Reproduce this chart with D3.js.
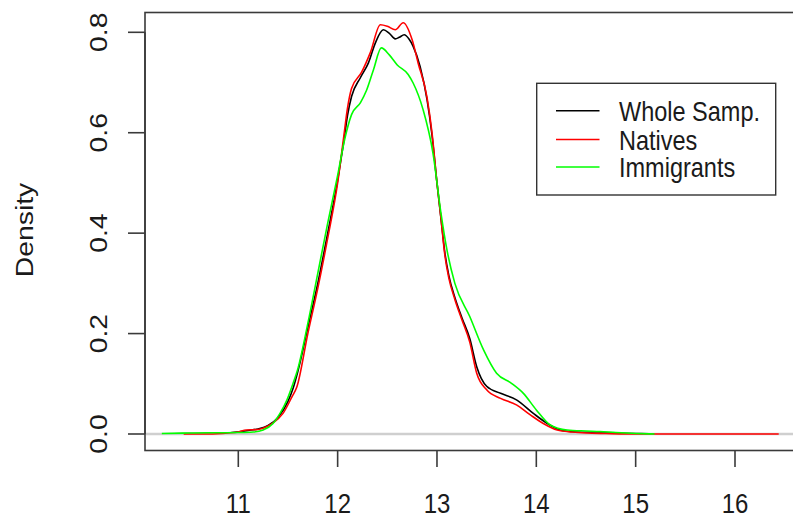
<!DOCTYPE html>
<html>
<head>
<meta charset="utf-8">
<script src="https://cdn.jsdelivr.net/npm/d3@7"></script>
<style>
  html, body { margin: 0; padding: 0; background: #fff; }
  svg { display: block; }
  text { font-family: "Liberation Sans", Arial, sans-serif; fill: #1a1a1a; }
</style>
</head>
<body>
<svg id="chart" width="793" height="519"></svg>
<script>
// density estimates: [log value, density]
var wholeSample = [
  [10.2, 0.0], [10.6, 0.001], [10.9, 0.002], [11.0, 0.004], [11.1, 0.007], [11.2, 0.01],
  [11.3, 0.017], [11.4, 0.033], [11.5, 0.065], [11.55, 0.09], [11.6, 0.125], [11.7, 0.212],
  [11.8, 0.30], [11.9, 0.40], [12.0, 0.505], [12.06, 0.58], [12.1, 0.635], [12.14, 0.672],
  [12.23, 0.71], [12.31, 0.739], [12.38, 0.779], [12.46, 0.805], [12.52, 0.798],
  [12.58, 0.787], [12.62, 0.79], [12.67, 0.795], [12.72, 0.786], [12.76, 0.772],
  [12.83, 0.732], [12.9, 0.666], [12.95, 0.595], [13.0, 0.5], [13.04, 0.43], [13.08, 0.36],
  [13.12, 0.315], [13.18, 0.272], [13.25, 0.232], [13.33, 0.19], [13.4, 0.134], [13.5, 0.095],
  [13.64, 0.081], [13.8, 0.068], [13.97, 0.041], [14.11, 0.021], [14.24, 0.008], [14.4, 0.004],
  [14.6, 0.003], [14.8, 0.002], [15.0, 0.001], [15.3, 0.0], [16.44, 0.0]
];

var natives = [
  [10.45, 0.0], [10.7, 0.0], [10.9, 0.002], [11.0, 0.004], [11.08, 0.008], [11.2, 0.009],
  [11.29, 0.015], [11.35, 0.022], [11.45, 0.041], [11.54, 0.074], [11.59, 0.094], [11.7, 0.2],
  [11.8, 0.29], [11.9, 0.39], [12.0, 0.5], [12.06, 0.59], [12.1, 0.65], [12.14, 0.688],
  [12.24, 0.72], [12.33, 0.76], [12.43, 0.815], [12.5, 0.812], [12.58, 0.805], [12.66, 0.819],
  [12.75, 0.785], [12.81, 0.739], [12.9, 0.67], [12.95, 0.6], [13.0, 0.5], [13.04, 0.43],
  [13.08, 0.355], [13.12, 0.31], [13.18, 0.268], [13.25, 0.228], [13.33, 0.183], [13.4, 0.121],
  [13.5, 0.088], [13.64, 0.071], [13.8, 0.058], [13.94, 0.038], [14.07, 0.021], [14.21, 0.008],
  [14.36, 0.004], [14.5, 0.002], [14.7, 0.001], [15.0, 0.0], [16.44, 0.0]
];

var immigrants = [
  [10.23, 0.001], [10.5, 0.002], [11.0, 0.003], [11.15, 0.004], [11.25, 0.008], [11.35, 0.021],
  [11.42, 0.041], [11.49, 0.068], [11.55, 0.1], [11.6, 0.13], [11.7, 0.22], [11.8, 0.32],
  [11.9, 0.42], [12.0, 0.515], [12.07, 0.586], [12.14, 0.636], [12.23, 0.66], [12.29, 0.684],
  [12.36, 0.725], [12.44, 0.769], [12.52, 0.755], [12.6, 0.735], [12.71, 0.716], [12.76, 0.699],
  [12.86, 0.646], [12.96, 0.559], [13.04, 0.44], [13.1, 0.367], [13.18, 0.3], [13.33, 0.234],
  [13.47, 0.167], [13.6, 0.121], [13.75, 0.101], [13.87, 0.081], [14.0, 0.048], [14.14, 0.018],
  [14.31, 0.008], [14.5, 0.006], [14.64, 0.005], [14.8, 0.003], [15.01, 0.001], [15.19, 0.0]
];

var seriesNames = ['Whole Samp.', 'Natives', 'Immigrants'];
var seriesColors = ['#000000', '#ff0000', '#00ff00'];
var xTicks = [11, 12, 13, 14, 15, 16];
var yTicks = [0, 0.2, 0.4, 0.6, 0.8];
var yTitle = 'Density';


/**
 * Draws the density plot
 */
function drawChart() {
  var svg = d3.select('#chart');
  // the picture was stretched a little in height, text follows that
  var stretch = 'scale(1,1.18)';
  var legendStretch = 'scale(1,1.16)';

  var box = {left: 145, top: 12.5, right: 800, bottom: 450.5};
  var x = d3.scaleLinear().domain([11, 16]).range([238.3, 735]);
  var y = d3.scaleLinear().domain([0, 0.8]).range([434, 32.3]);

  var line = d3.line()
      .x(function(d) { return x(d[0]); })
      .y(function(d) { return y(d[1]); })
      .curve(d3.curveMonotoneX);

  var plot = svg.append('g');

  // whole sample goes first, then the zero line, then the subgroups on top
  plot.append('path').datum(wholeSample).
      attr('d', line).
      attr('fill', 'none').
      attr('stroke', seriesColors[0]).
      attr('stroke-width', 1.6);

  plot.append('line').
      attr('x1', box.left).attr('x2', box.right).
      attr('y1', y(0)).attr('y2', y(0)).
      attr('stroke', '#cfcfcf').
      attr('stroke-width', 2.4);

  [natives, immigrants].forEach(function(series, i) {
    plot.append('path').datum(series).
        attr('d', line).
        attr('fill', 'none').
        attr('stroke', seriesColors[i + 1]).
        attr('stroke-width', 1.6);
  });

  svg.append('rect').
      attr('x', box.left).attr('y', box.top).
      attr('width', box.right - box.left).attr('height', box.bottom - box.top).
      attr('fill', 'none').
      attr('stroke', '#3a3a3a').
      attr('stroke-width', 1.6);

  // y axis
  var yAxis = svg.append('g');
  yAxis.append('line').
      attr('x1', box.left).attr('x2', box.left).
      attr('y1', y(0)).attr('y2', y(0.8)).
      attr('stroke', '#3a3a3a').attr('stroke-width', 1.6);
  yAxis.selectAll('line.tick').data(yTicks).enter().append('line').
      attr('class', 'tick').
      attr('x1', 128).attr('x2', box.left).
      attr('y1', function(d) { return y(d); }).
      attr('y2', function(d) { return y(d); }).
      attr('stroke', '#3a3a3a').attr('stroke-width', 1.6);
  yAxis.selectAll('text').data(yTicks).enter().append('text').
      attr('transform', function(d) {
        return 'translate(106.5,' + y(d) + ') ' + stretch + ' rotate(-90)';
      }).
      attr('text-anchor', 'middle').
      style('font-size', '24px').
      text(d3.format('.1f'));

  svg.append('text').
      attr('transform', 'translate(32.5,230) ' + stretch + ' rotate(-90)').
      attr('text-anchor', 'middle').
      style('font-size', '24px').
      text(yTitle);

  // x axis
  var xAxis = svg.append('g');
  xAxis.selectAll('line').data(xTicks).enter().append('line').
      attr('x1', function(d) { return x(d); }).
      attr('x2', function(d) { return x(d); }).
      attr('y1', box.bottom).attr('y2', 467).
      attr('stroke', '#3a3a3a').attr('stroke-width', 1.6);
  xAxis.selectAll('text').data(xTicks).enter().append('text').
      attr('transform', function(d) {
        return 'translate(' + x(d) + ',512.5) ' + stretch;
      }).
      attr('text-anchor', 'middle').
      style('font-size', '24px').
      text(function(d) { return d; });

  // legend
  var legend = svg.append('g');
  legend.append('rect').
      attr('x', 536.7).attr('y', 83.3).
      attr('width', 239).attr('height', 111.7).
      attr('fill', '#fff').
      attr('stroke', '#333').
      attr('stroke-width', 1.4);
  var rowY = [110.7, 139.5, 167];
  var rows = legend.selectAll('g.row').data(seriesNames).enter().append('g').
      attr('class', 'row');
  rows.append('line').
      attr('x1', 556).attr('x2', 599.5).
      attr('y1', function(d, i) { return rowY[i]; }).
      attr('y2', function(d, i) { return rowY[i]; }).
      attr('stroke', function(d, i) { return seriesColors[i]; }).
      attr('stroke-width', 1.6);
  rows.append('text').
      attr('transform', function(d, i) {
        return 'translate(619,' + (rowY[i] + 10) + ') ' + legendStretch;
      }).
      style('font-size', '23.5px').
      text(function(d) { return d; });
}

drawChart();
</script>
</body>
</html>
